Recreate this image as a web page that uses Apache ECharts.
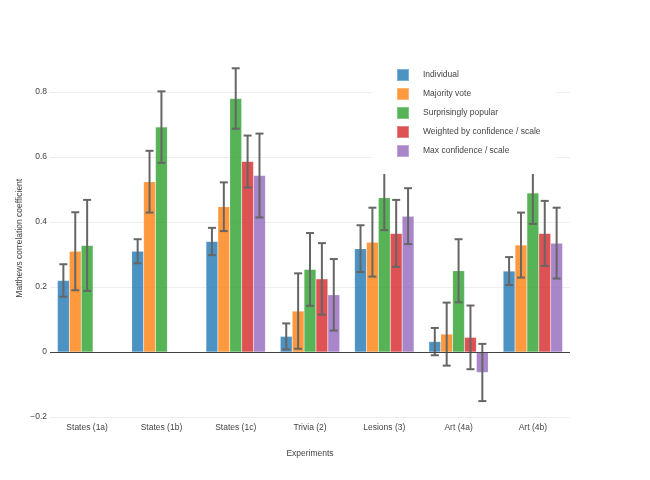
<!DOCTYPE html>
<html>
<head>
<meta charset="utf-8">
<script src="https://cdn.jsdelivr.net/npm/echarts@6/dist/echarts.min.js"></script>
<style>html,body{margin:0;padding:0;background:#fff}#c{width:650px;height:480px}</style>
</head>
<body>
<div id="c"></div>
<script>
var categories = ['States (1a)', 'States (1b)', 'States (1c)', 'Trivia (2)', 'Lesions (3)', 'Art (4a)', 'Art (4b)'];
var seriesNames = ['Individual', 'Majority vote', 'Surprisingly popular', 'Weighted by confidence / scale', 'Max confidence / scale'];
var individual = [0.22, 0.31, 0.34, 0.048, 0.318, 0.032, 0.249];
var individualErr = [0.05, 0.037, 0.042, 0.04, 0.072, 0.042, 0.043];
var majority = [0.31, 0.524, 0.447, 0.126, 0.338, 0.055, 0.329];
var majorityErr = [0.12, 0.095, 0.075, 0.116, 0.106, 0.097, 0.1];
var surprising = [0.328, 0.692, 0.78, 0.254, 0.475, 0.25, 0.489];
var surprisingErr = [0.14, 0.11, 0.093, 0.112, 0.1, 0.097, 0.095];
var weighted = [null, null, 0.586, 0.225, 0.365, 0.045, 0.365];
var weightedErr = [null, null, 0.08, 0.11, 0.103, 0.098, 0.1];
var maxConf = [null, null, 0.543, 0.176, 0.418, -0.063, 0.335];
var maxConfErr = [null, null, 0.129, 0.11, 0.086, 0.088, 0.109];
var colors = ['#1f77b4', '#ff7f0e', '#2ca02c', '#d62728', '#9467bd'];

var values = [individual, majority, surprising, weighted, maxConf];
var errs = [individualErr, majorityErr, surprisingErr, weightedErr, maxConfErr];
var nSeries = values.length;
var catGap = 0.2;

var errData = [];
values.forEach(function (vals, s) {
  vals.forEach(function (v, i) {
    if (v !== null) errData.push([i, v - errs[s][i], v + errs[s][i], s]);
  });
});

var font = 'Liberation Sans, Arial, sans-serif';
var txt = '#444';

var series = values.map(function (vals, s) {
  return {
    name: seriesNames[s],
    type: 'bar',
    data: vals,
    barGap: '0%',
    barCategoryGap: (catGap * 100) + '%',
    itemStyle: { color: colors[s], opacity: 0.8, borderColor: 'rgba(255,255,255,0.35)', borderWidth: 0.5 },
    emphasis: { disabled: true },
    z: 2
  };
});

series.push({
  type: 'custom',
  name: 'error',
  z: 3,
  silent: true,
  data: errData,
  encode: { x: 0, y: [1, 2] },
  renderItem: function (params, api) {
    var ci = api.value(0);
    var s = api.value(3);
    var band = api.size([1, 0])[0];
    var barW = band * (1 - catGap) / nSeries;
    var center = api.coord([ci, 0])[0];
    var x = center + (s - (nSeries - 1) / 2) * barW;
    var lo = api.coord([ci, api.value(1)])[1];
    var hi = api.coord([ci, api.value(2)])[1];
    var cap = 4;
    var st = { stroke: '#666', lineWidth: 2 };
    return {
      type: 'group',
      children: [
        { type: 'line', shape: { x1: x, y1: lo, x2: x, y2: hi }, style: st },
        { type: 'line', shape: { x1: x - cap, y1: hi, x2: x + cap, y2: hi }, style: st },
        { type: 'line', shape: { x1: x - cap, y1: lo, x2: x + cap, y2: lo }, style: st }
      ]
    };
  }
});

series.push({
  type: 'line',
  name: 'zero',
  data: categories.map(function () { return 0; }),
  symbol: 'none',
  silent: true,
  lineStyle: { width: 0 },
  markLine: {
    silent: true,
    symbol: 'none',
    label: { show: false },
    lineStyle: { color: '#444', width: 1, type: 'solid' },
    data: [{ yAxis: 0 }]
  },
  z: 4
});

var chart = echarts.init(document.getElementById('c'), null, { renderer: 'canvas' });
chart.setOption({
  animation: false,
  backgroundColor: '#fff',
  textStyle: { fontFamily: font },
  grid: { left: 50, right: 80, top: 59.5, bottom: 63, containLabel: false },
  legend: {
    data: seriesNames,
    orient: 'vertical',
    left: 372,
    top: 62,
    itemWidth: 12,
    itemHeight: 12,
    itemGap: 5,
    padding: [6, 15, 16, 24],
    backgroundColor: '#fff',
    selectedMode: true,
    icon: 'rect',
    textStyle: { fontSize: 8.5, color: txt, fontFamily: font, padding: [0, 0, 0, 9] },
    z: 10
  },
  xAxis: {
    type: 'category',
    data: categories,
    name: 'Experiments',
    nameLocation: 'middle',
    nameGap: 32,
    nameTextStyle: { fontSize: 8.5, color: txt, fontFamily: font },
    axisLine: { show: false },
    axisTick: { show: false },
    axisLabel: { fontSize: 8.5, color: txt, fontFamily: font, margin: 6 }
  },
  yAxis: {
    type: 'value',
    min: -0.2,
    max: 0.9,
    interval: 0.2,
    name: 'Matthews correlation coefficient',
    nameLocation: 'middle',
    nameGap: 26,
    nameMoveOverlap: false,
    nameTextStyle: { fontSize: 8.5, color: txt, fontFamily: font },
    axisLine: { show: false },
    axisTick: { show: false },
    axisLabel: {
      fontSize: 8.5, color: txt, fontFamily: font, margin: 3, showMaxLabel: false,
      formatter: function (v) { return v === 0 ? '0' : String(Math.round(v * 10) / 10).replace('-', '\u2212'); }
    },
    splitLine: { lineStyle: { color: '#eee', width: 1 }, showMaxLine: false }
  },
  series: series
});
</script>
</body>
</html>
